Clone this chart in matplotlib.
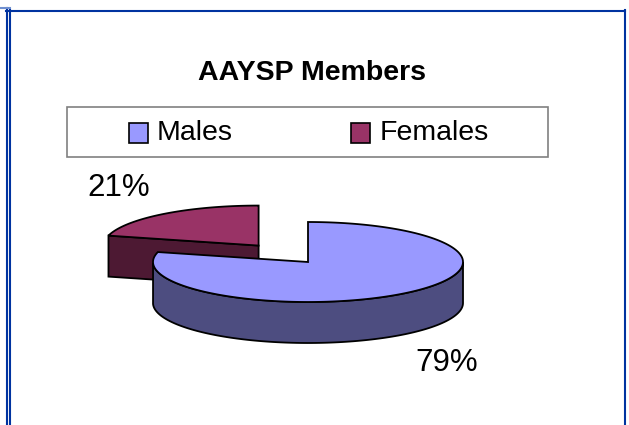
import numpy as np
import matplotlib
matplotlib.use("Agg")
import matplotlib.pyplot as plt
from matplotlib.patches import Polygon, Rectangle

plt.rcParams['font.family'] = ['Liberation Sans', 'DejaVu Sans']

# data
labels = ['Males', 'Females']
values = [79, 21]
pct_labels = ['79%', '21%']
top_colors = ['#9999ff', '#993366']
side_colors = ['#4d4d80', '#4d1933']

# pie geometry (pixels)
cx, cy = 308, 262
a, b, depth = 155, 40, 41
explode = [0.0, 0.52]
start = 90.0

fig = plt.figure(figsize=(6.29, 4.25), dpi=100)
ax = fig.add_axes([0, 0, 1, 1])
ax.set_xlim(0, 629)
ax.set_ylim(425, 0)
ax.axis('off')


def pt(c, t, dz=0.0):
    r = np.radians(t)
    return (c[0] + a * np.cos(r), c[1] - b * np.sin(r) + dz)


# slice angles: females first, counterclockwise from the top
total = sum(values)
spans = {}
t0 = start
for name, v in zip(['Females', 'Males'], [values[1], values[0]]):
    t1 = t0 + 360.0 * v / total
    spans[name] = (t0, t1)
    t0 = t1

order = {'Males': 0, 'Females': 1}


def draw_slice(name):
    i = order[name]
    t0, t1 = spans[name]
    mid = np.radians((t0 + t1) / 2)
    c = (cx + explode[i] * a * np.cos(mid), cy - explode[i] * b * np.sin(mid))
    ts = np.linspace(t0, t1, 200)
    # outer side on the front half
    front = ts[(np.mod(ts, 360) >= 180) & (np.mod(ts, 360) <= 360)]
    if np.mod(t1, 360) < 180 and t1 > 360:
        front = np.concatenate([front, [360.0]])
    if len(front) > 1:
        topp = [pt(c, t) for t in front]
        botp = [pt(c, t, depth) for t in front[::-1]]
        ax.add_patch(Polygon(topp + botp, closed=True, fc=side_colors[i],
                             ec='black', lw=1.3))
    # radial face at end angle if it faces the viewer
    tt = np.mod(t1, 360)
    if 90 < tt < 180 and name == 'Females':
        p = pt(c, t1)
        face = [c, p, (p[0], p[1] + depth), (c[0], c[1] + depth)]
        ax.add_patch(Polygon(face, closed=True, fc=side_colors[i],
                             ec='black', lw=1.3))
    top = [c] + [pt(c, t) for t in ts]
    ax.add_patch(Polygon(top, closed=True, fc=top_colors[i], ec='black', lw=1.3))


draw_slice('Females')
draw_slice('Males')

# percentage labels
ax.text(119, 188, pct_labels[1], fontsize=22.5, ha='center', va='center')
ax.text(447, 363, pct_labels[0], fontsize=22.5, ha='center', va='center')

# title
ax.text(312, 73, 'AAYSP Members', fontsize=20.5, fontweight='bold',
        ha='center', va='center')

# legend box
ax.add_patch(Rectangle((67, 107), 481, 50, fc='white', ec='#808080', lw=1.2))
for x0, xt, i in [(129, 157, 0), (351, 380, 1)]:
    ax.add_patch(Rectangle((x0, 123), 19, 20, fc=top_colors[i], ec='black', lw=1.2))
    ax.text(xt, 133, labels[i], fontsize=20.5, ha='left', va='center')

# chart border
blue = '#0033a0'
ax.plot([9.5, 9.5], [10, 425], color=blue, lw=1.5)
ax.plot([6.5, 6.5], [7.5, 425], color=blue, lw=1.5)
ax.plot([0, 10], [7.5, 7.5], color='#6f8fd0', lw=1.5)
ax.plot([6, 625], [10.5, 10.5], color=blue, lw=1.5)
ax.plot([624.5, 624.5], [10, 425], color=blue, lw=1.5)

fig.savefig('out.png', dpi=100)
